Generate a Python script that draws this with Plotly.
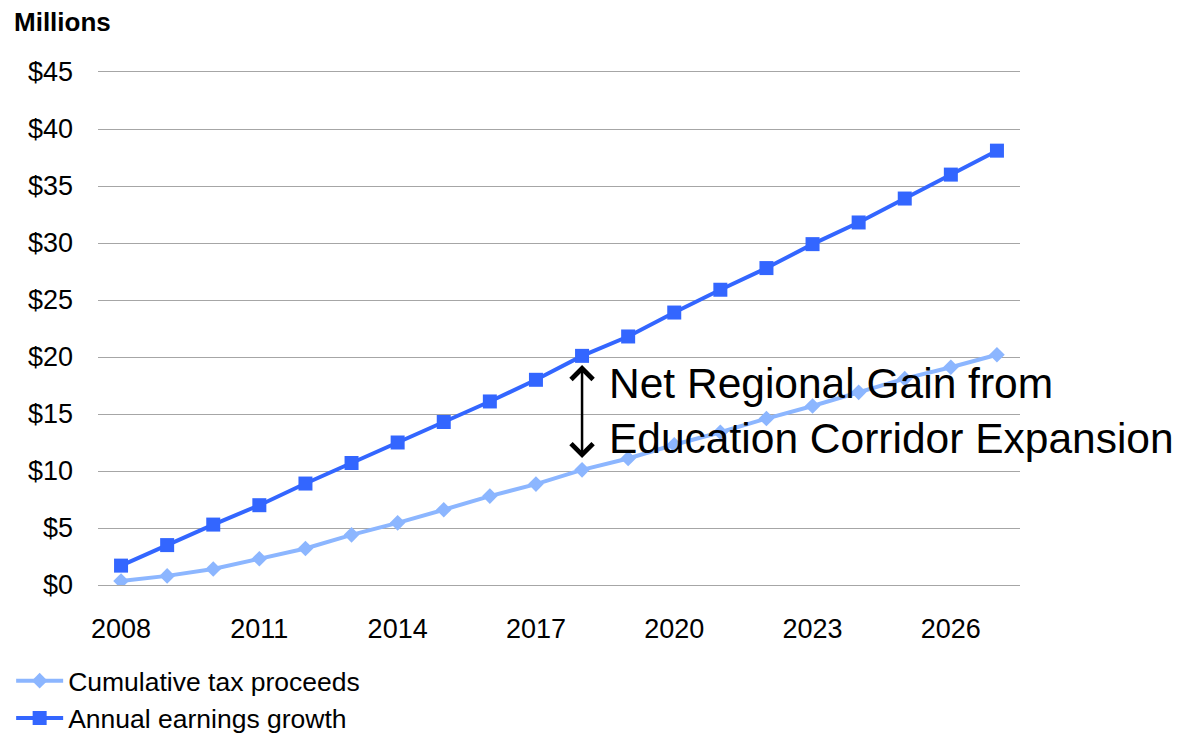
import plotly.graph_objects as go

# Data (millions of dollars)
years = list(range(2008, 2028))
annual_earnings = [1.7, 3.5, 5.3, 7.0, 8.9, 10.7, 12.5, 14.3, 16.1, 18.0,
                   20.1, 21.8, 23.9, 25.9, 27.8, 29.9, 31.8, 33.9, 36.0, 38.1]
cumulative_tax = [0.35, 0.8, 1.4, 2.3, 3.2, 4.4, 5.45, 6.6, 7.8, 8.85,
                  10.1, 11.1, 12.3, 13.4, 14.6, 15.7, 16.9, 18.1, 19.1, 20.2]
y_ticks = [0, 5, 10, 15, 20, 25, 30, 35, 40, 45]
y_tick_labels = [f'${v}' for v in y_ticks]
x_ticks = [2008, 2011, 2014, 2017, 2020, 2023, 2026]

FONT = 'Liberation Sans, Arial, sans-serif'
DARK_BLUE = '#3366FF'
LIGHT_BLUE = '#8CB6FF'
GRID = '#A6A6A6'

fig = go.Figure()

fig.add_trace(go.Scatter(
    x=years, y=cumulative_tax,
    mode='lines+markers',
    name='Cumulative tax proceeds',
    line=dict(color=LIGHT_BLUE, width=4),
    marker=dict(symbol='diamond', size=12, color=LIGHT_BLUE),
    legendgroup='a'
))

fig.add_trace(go.Scatter(
    x=years, y=annual_earnings,
    mode='lines+markers',
    name='Annual earnings growth',
    line=dict(color=DARK_BLUE, width=4),
    marker=dict(symbol='square', size=14, color=DARK_BLUE),
    legendgroup='b'
))

# Double-headed arrow showing the gap at 2018
fig.add_annotation(
    x=2018, y=19.3, ax=2018, ay=11.0,
    xref='x', yref='y', axref='x', ayref='y',
    text='', showarrow=True,
    arrowhead=4, arrowside='end+start', arrowsize=1.7,
    arrowwidth=2.5, arrowcolor='black'
)

fig.add_annotation(
    x=2018.55, y=15.3, xref='x', yref='y',
    text='Net Regional Gain from<br>Education Corridor Expansion',
    showarrow=False, xanchor='left', yanchor='middle', align='left',
    font=dict(family=FONT, size=42.5, color='black')
)

# Millions label in the top-left corner
fig.add_annotation(
    x=-0.0933, y=1.0975, xref='paper', yref='paper',
    text='<b>Millions</b>', showarrow=False,
    xanchor='left', yanchor='middle',
    font=dict(family=FONT, size=26, color='black')
)

# page body adds an 8px offset, so the figure is 8px smaller on each axis
fig.update_layout(
    width=1172, height=728,
    paper_bgcolor='white', plot_bgcolor='white',
    margin=dict(l=90, r=160, t=64, b=151, autoexpand=False),
    font=dict(family=FONT, size=26, color='black'),
    showlegend=True,
    legend=dict(
        x=-0.0942, y=-0.1402, xanchor='left', yanchor='top',
        orientation='v', tracegroupgap=0, itemwidth=47,
        font=dict(family=FONT, size=26.5, color='black'),
        bgcolor='rgba(0,0,0,0)'
    ),
    xaxis=dict(
        range=[2007.5, 2027.5],
        tickvals=x_ticks,
        showgrid=False, zeroline=False,
        showline=True, mirror=True, linecolor=GRID, linewidth=1,
        ticks='outside', ticklen=20, tickcolor='rgba(0,0,0,0)',
        tickfont=dict(family=FONT, size=27, color='black')
    ),
    yaxis=dict(
        range=[0, 45],
        tickvals=y_ticks, ticktext=y_tick_labels,
        showgrid=True, gridcolor=GRID, gridwidth=1,
        zeroline=False, showline=False,
        ticks='', ticklabelstandoff=24,
        tickfont=dict(family=FONT, size=27, color='black')
    )
)

fig.write_html('out.html')
